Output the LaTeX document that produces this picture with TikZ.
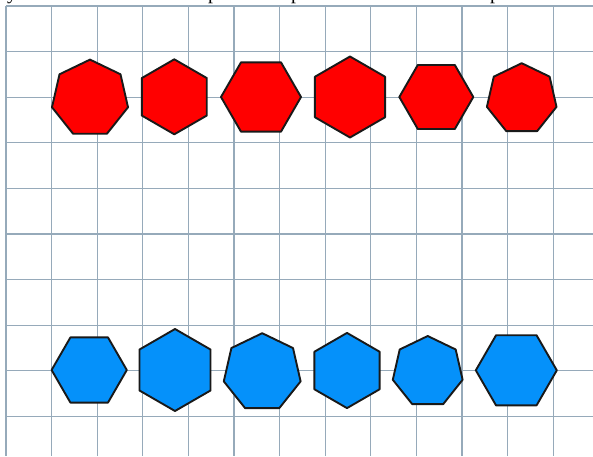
\documentclass[tikz,border=0pt]{standalone}
\usepackage{fontspec}
\setmainfont{Liberation Serif}
\usetikzlibrary{shapes.geometric}
\definecolor{gridc}{RGB}{150,170,186}
\definecolor{redf}{RGB}{255,0,0}
\definecolor{bluef}{RGB}{5,145,250}
\definecolor{edgec}{RGB}{25,25,25}
\tikzset{
  gridline/.style={draw=gridc, line width=1.3pt},
  poly/.style={regular polygon, draw=edgec, line width=1.9pt, inner sep=0pt, outer sep=0pt, line join=round},
  hepta/.style={poly, regular polygon sides=7, minimum size=2*#1},
  hexflat/.style={poly, regular polygon sides=6, minimum size=2*#1},
  hexpoint/.style={poly, regular polygon sides=6, minimum size=2*#1, rotate=30},
  redpoly/.style={fill=redf},
  bluepoly/.style={fill=bluef},
  cuttext/.style={anchor=base west, inner sep=0pt, font=\fontsize{20}{24}\selectfont}
}
\begin{document}
\begin{tikzpicture}[x=1pt,y=-1pt]
\useasboundingbox (0,0) rectangle (593,456);
\fill[white] (0,0) rectangle (593,456);
% grid
\foreach \k in {0,...,12} {
  \draw[gridline] ({6+45.6*\k},6) -- ({6+45.6*\k},456);
}
\foreach \j in {0,...,9} {
  \draw[gridline] (6,{6+45.6*\j}) -- (593,{6+45.6*\j});
}
% cut-off text line above the picture (only descenders visible, as in the reference)
\node[cuttext] (t1) at (7,-0.4) {y};
\node[cuttext] (t2) at (208,-0.4) {p};
\node[cuttext] (t3) at (291,-0.4) {p};
\node[cuttext] (t4) at (490,-0.4) {p};
% red row
\node[hepta=39pt, redpoly] (r1) at (90,98.6) {};
\node[hexpoint=37.5pt, redpoly] (r2) at (174.3,96.8) {};
\node[hexflat=40pt, redpoly] (r3) at (261,97) {};
\node[hexpoint=40.5pt, redpoly] (r4) at (350,97) {};
\node[hexflat=37pt, redpoly] (r5) at (436.3,97) {};
\node[hepta=35.7pt, redpoly] (r6) at (521.7,98.9) {};
% blue row
\node[hexflat=37.6pt, bluepoly] (b1) at (89.2,370) {};
\node[hexpoint=41pt, bluepoly] (b2) at (175,370) {};
\node[hepta=39.4pt, bluepoly] (b3) at (262.2,372.6) {};
\node[hexpoint=37.6pt, bluepoly] (b4) at (347,370.5) {};
\node[hepta=35.8pt, bluepoly] (b5) at (427.7,371.8) {};
\node[hexflat=40.5pt, bluepoly] (b6) at (516.3,370.3) {};
\end{tikzpicture}
\end{document}
